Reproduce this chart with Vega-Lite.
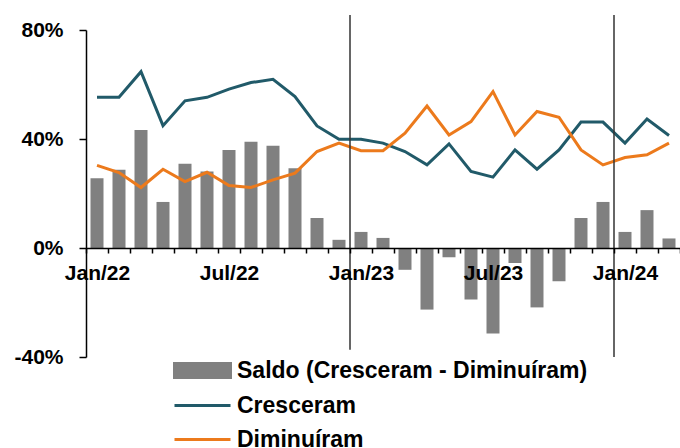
{
  "$schema": "https://vega.github.io/schema/vega-lite/v6.json",
  "width": 594,
  "height": 327,
  "autosize": "none",
  "padding": {"left": 86, "top": 30, "right": 0, "bottom": 91},
  "config": {
    "view": {"stroke": null},
    "font": "Liberation Sans",
    "axis": {"labelFont": "Liberation Sans", "labelFontWeight": "bold", "labelColor": "#000000", "labelFontSize": 21, "domainColor": "#000000", "tickColor": "#000000", "grid": false, "title": null}
  },
  "data": {
    "values": [
      {"m": "Jan/22", "saldo": 25.6, "Cresceram": 55.3, "Diminuíram": 30.3},
      {"m": "Fev/22", "saldo": 28.7, "Cresceram": 55.3, "Diminuíram": 27.7},
      {"m": "Mar/22", "saldo": 43.3, "Cresceram": 64.7, "Diminuíram": 22.2},
      {"m": "Abr/22", "saldo": 16.9, "Cresceram": 44.9, "Diminuíram": 28.9},
      {"m": "Mai/22", "saldo": 30.9, "Cresceram": 54.0, "Diminuíram": 24.4},
      {"m": "Jun/22", "saldo": 28.1, "Cresceram": 55.3, "Diminuíram": 27.8},
      {"m": "Jul/22", "saldo": 36.0, "Cresceram": 58.3, "Diminuíram": 22.9},
      {"m": "Ago/22", "saldo": 39.0, "Cresceram": 60.7, "Diminuíram": 22.2},
      {"m": "Set/22", "saldo": 37.5, "Cresceram": 61.9, "Diminuíram": 25.0},
      {"m": "Out/22", "saldo": 29.3, "Cresceram": 55.6, "Diminuíram": 27.5},
      {"m": "Nov/22", "saldo": 11.0, "Cresceram": 44.8, "Diminuíram": 35.4},
      {"m": "Dez/22", "saldo": 3.0, "Cresceram": 39.9, "Diminuíram": 38.5},
      {"m": "Jan/23", "saldo": 5.9, "Cresceram": 39.9, "Diminuíram": 35.7},
      {"m": "Fev/23", "saldo": 3.7, "Cresceram": 38.5, "Diminuíram": 35.7},
      {"m": "Mar/23", "saldo": -8.0, "Cresceram": 35.4, "Diminuíram": 42.1},
      {"m": "Abr/23", "saldo": -22.6, "Cresceram": 30.5, "Diminuíram": 52.1},
      {"m": "Mai/23", "saldo": -3.4, "Cresceram": 38.2, "Diminuíram": 41.5},
      {"m": "Jun/23", "saldo": -18.9, "Cresceram": 28.1, "Diminuíram": 46.4},
      {"m": "Jul/23", "saldo": -31.4, "Cresceram": 26.0, "Diminuíram": 57.4},
      {"m": "Ago/23", "saldo": -5.5, "Cresceram": 36.0, "Diminuíram": 41.5},
      {"m": "Set/23", "saldo": -21.8, "Cresceram": 28.9, "Diminuíram": 50.1},
      {"m": "Out/23", "saldo": -12.2, "Cresceram": 36.0, "Diminuíram": 48.0},
      {"m": "Nov/23", "saldo": 11.0, "Cresceram": 46.2, "Diminuíram": 36.0},
      {"m": "Dez/23", "saldo": 16.9, "Cresceram": 46.2, "Diminuíram": 30.5},
      {"m": "Jan/24", "saldo": 5.9, "Cresceram": 38.5, "Diminuíram": 33.2},
      {"m": "Fev/24", "saldo": 13.9, "Cresceram": 47.3, "Diminuíram": 34.2},
      {"m": "Mar/24", "saldo": 3.5, "Cresceram": 41.3, "Diminuíram": 38.5}
    ]
  },
  "encoding": {
    "x": {
      "field": "m", "type": "ordinal", "sort": null,
      "scale": {"paddingInner": 0, "paddingOuter": 0},
      "axis": {
        "offset": -109, "zindex": 1, "tickBand": "extent", "tickSize": 5, "domainWidth": 1.5, "tickWidth": 1.5, "labelPadding": 9, "labelAngle": 0,
        "labelExpr": "indexof(['Jan/22','Jul/22','Jan/23','Jul/23','Jan/24'], datum.value) >= 0 ? datum.value : ''"
      }
    }
  },
  "layer": [
    {
      "mark": {"type": "bar", "size": 13, "color": "#808080"},
      "encoding": {
        "y": {
          "field": "saldo", "type": "quantitative",
          "scale": {"domain": [-40, 80], "nice": false, "zero": false},
          "axis": {"values": [-40, 0, 40, 80], "labelExpr": "datum.value + '%'", "tickSize": 7, "domainWidth": 1.5, "tickWidth": 1.5, "labelPadding": 16}
        },
        "color": {
          "datum": "Saldo (Cresceram - Diminuíram)",
          "scale": {"domain": ["Saldo (Cresceram - Diminuíram)", "Cresceram", "Diminuíram"], "range": ["#808080", "#215a69", "#ec7a1c"]},
          "legend": {
            "title": null, "orient": "none", "legendX": 101, "legendY": 325, "direction": "vertical",
            "padding": 0, "labelFont": "Liberation Sans", "labelFontWeight": "bold", "labelFontSize": 23, "labelColor": "#000000",
            "labelLimit": 600, "labelOffset": 19, "rowPadding": 6, "symbolSize": 784,
            "encode": {
              "symbols": {
                "update": {
                  "shape": {"signal": "datum.value == 'Saldo (Cresceram - Diminuíram)' ? 'M-2,-0.5H2V0.5H-2Z' : 'M-2,0H2'"},
                  "fill": {"signal": "datum.value == 'Saldo (Cresceram - Diminuíram)' ? '#808080' : 'transparent'"},
                  "stroke": {"signal": "datum.value == 'Saldo (Cresceram - Diminuíram)' ? 'transparent' : (datum.value == 'Cresceram' ? '#215a69' : '#ec7a1c')"},
                  "strokeWidth": {"value": 3},
                  "size": {"value": 784},
                  "opacity": {"value": 1}
                }
              }
            }
          }
        }
      }
    },
    {
      "transform": [{"fold": ["Cresceram", "Diminuíram"], "as": ["serie", "valor"]}],
      "mark": {"type": "line", "strokeWidth": 3},
      "encoding": {
        "y": {"field": "valor", "type": "quantitative"},
        "color": {"field": "serie", "type": "nominal", "legend": {"title": null}}
      }
    },
    {
      "data": {"values": [{"m": "Jan/23", "topo": 85.5, "base": -37.3}, {"m": "Jan/24", "topo": 85.5, "base": -40}]},
      "mark": {"type": "rule", "color": "#333333", "strokeWidth": 1.5},
      "encoding": {
        "x": {"field": "m", "type": "ordinal", "bandPosition": 0},
        "y": {"field": "topo", "type": "quantitative"},
        "y2": {"field": "base"}
      }
    }
  ]
}
